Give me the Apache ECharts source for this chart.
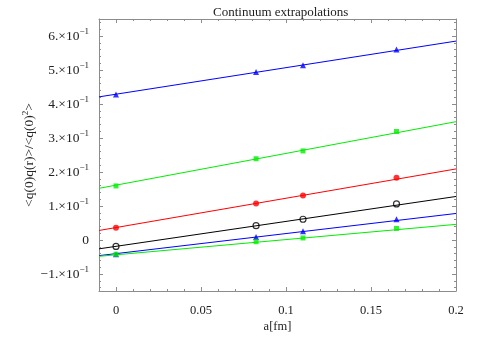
<!DOCTYPE html>
<html>
<head>
<meta charset="utf-8">
<script src="https://cdn.jsdelivr.net/npm/echarts@6/dist/echarts.min.js"></script>
<style>
  html, body { margin: 0; padding: 0; background: #fff; }
  #chart { width: 483px; height: 338px; }
</style>
</head>
<body>
<div id="chart"></div>
<script>
// lattice spacings a[fm] of the data points
var aValues = [0, 0.0824, 0.11, 0.165]
// fit lines are drawn between these two a values
var fitRange = [-0.01, 0.2]

var blueTop = [0.428, 0.494, 0.514, 0.560]
var blueTopFit = [0.421, 0.585]
var greenTop = [0.159, 0.239, 0.262, 0.319]
var greenTopFit = [0.152, 0.348]
var redPts = [0.036, 0.107, 0.131, 0.183]
var redFit = [0.028, 0.209]
var blackPts = [-0.019, 0.042, 0.061, 0.106]
var blackFit = [-0.026, 0.128]
var blueLow = [-0.042, 0.009, 0.026, 0.061]
var blueLowFit = [-0.046, 0.078]
var greenLow = [-0.042, -0.005, 0.006, 0.034]
var greenLowFit = [-0.048, 0.046]

var xMajor = [0, 0.05, 0.1, 0.15, 0.2]
var xMinor = [-0.01, 0.01, 0.02, 0.03, 0.04, 0.06, 0.07, 0.08, 0.09, 0.11, 0.12, 0.13, 0.14, 0.16, 0.17, 0.18, 0.19]
var yMajor = [-0.1, 0, 0.1, 0.2, 0.3, 0.4, 0.5, 0.6]
var yMinor = [-0.14, -0.12, -0.08, -0.06, -0.04, -0.02, 0.02, 0.04, 0.06, 0.08, 0.12, 0.14, 0.16, 0.18,
  0.22, 0.24, 0.26, 0.28, 0.32, 0.34, 0.36, 0.38, 0.42, 0.44, 0.46, 0.48, 0.52, 0.54, 0.56, 0.58, 0.62, 0.64]

var font = 'Liberation Serif'
var frameColor = '#8c8c8c'

function pts(ys) {
  return ys.map(function(y, i) { return [aValues[i], y] })
}
function fit(ys) {
  return [[fitRange[0], ys[0]], [fitRange[1], ys[1]]]
}

function xAxisDef(pos, values, len, labels) {
  return {
    type: 'value', position: pos, min: -0.01, max: 0.2, offset: 0,
    axisLine: { show: labels, onZero: false, lineStyle: { color: frameColor, width: 1 } },
    axisTick: { show: true, inside: true, length: len, customValues: values, lineStyle: { color: frameColor } },
    axisLabel: {
      show: labels, customValues: xMajor, margin: 13,
      fontFamily: font, fontSize: 12.5, color: '#222',
      formatter: function(v) { return v === 0 ? '0' : String(+v.toFixed(2)) }
    },
    splitLine: { show: false }
  }
}

function yLabel(v) {
  var n = Math.round(v * 10)
  if (n === 0) return '0'
  var s = n < 0 ? '\u2212' + (-n) : String(n)
  return '{m|' + s + '.\u00d710}{s|\u22121}'
}

function yAxisDef(pos, values, len, labels) {
  return {
    type: 'value', position: pos, min: -0.15, max: 0.65, offset: 0,
    axisLine: { show: labels, onZero: false, lineStyle: { color: frameColor, width: 1 } },
    axisTick: { show: true, inside: true, length: len, customValues: values, lineStyle: { color: frameColor } },
    axisLabel: {
      show: labels, customValues: yMajor, margin: 10,
      fontFamily: font, fontSize: 13.5, color: '#222',
      formatter: yLabel,
      rich: {
        m: { fontFamily: font, fontSize: 13.5, color: '#222' },
        s: { fontFamily: font, fontSize: 9, color: '#222', padding: [0, 0, 8, 0] }
      }
    },
    splitLine: { show: false }
  }
}

var xAxes = [
  xAxisDef('bottom', xMajor, 4, true),
  xAxisDef('bottom', xMinor, 2, false),
  xAxisDef('top', xMajor, 4, true),
  xAxisDef('top', xMinor, 2, false)
]
xAxes[0].name = 'a[fm]'
xAxes[0].nameLocation = 'middle'
xAxes[0].nameGap = 29
xAxes[0].nameMoveOverlap = false
xAxes[0].nameTextStyle = { fontFamily: font, fontSize: 12.5, color: '#222' }
xAxes[2].axisLabel.show = false

var yAxes = [
  yAxisDef('left', yMajor, 4, true),
  yAxisDef('left', yMinor, 2, false),
  yAxisDef('right', yMajor, 4, true),
  yAxisDef('right', yMinor, 2, false)
]
yAxes[0].name = '{m|<q(0)q(r)>/<q(0)}{s|2}{m|>}'
yAxes[0].nameLocation = 'middle'
yAxes[0].nameGap = 62
yAxes[0].nameMoveOverlap = false
yAxes[0].nameTextStyle = {
  rich: {
    m: { fontFamily: font, fontSize: 13.5, color: '#222' },
    s: { fontFamily: font, fontSize: 9, color: '#222', padding: [0, 0, 7, 0] }
  }
}
yAxes[2].axisLabel.show = false

function lineSeries(data, color) {
  return {
    type: 'line', data: fit(data), symbol: 'none', silent: true,
    lineStyle: { color: color, width: 1 }, z: 2
  }
}
function pointSeries(data, color, symbol, size, hollow) {
  return {
    type: 'scatter', data: pts(data), symbol: symbol, symbolSize: size, z: 3,
    itemStyle: hollow
      ? { color: 'rgba(255,255,255,0)', borderColor: color, borderWidth: 1.2 }
      : { color: color }
  }
}

var chart = echarts.init(document.getElementById('chart'), null, { renderer: 'canvas' })
chart.setOption({
  animation: false,
  backgroundColor: '#fff',
  title: {
    text: 'Continuum extrapolations', left: 208, top: 1,
    textStyle: { fontFamily: font, fontSize: 13, fontWeight: 'normal', color: '#222' }
  },
  grid: { left: 99, right: 27, top: 19, bottom: 35 },
  xAxis: xAxes,
  yAxis: yAxes,
  series: [
    lineSeries(blueTopFit, '#0000ff'),
    pointSeries(blueTop, '#0000ff', 'triangle', 6),
    lineSeries(greenTopFit, '#00ee00'),
    pointSeries(greenTop, '#00ee00', 'rect', 5),
    lineSeries(redFit, '#ff0000'),
    pointSeries(redPts, '#ff0000', 'circle', 6),
    lineSeries(blackFit, '#000000'),
    pointSeries(blackPts, '#000000', 'circle', 6, true),
    lineSeries(blueLowFit, '#0000ff'),
    pointSeries(blueLow, '#0000ff', 'triangle', 6),
    lineSeries(greenLowFit, '#00ee00'),
    pointSeries(greenLow, '#00ee00', 'rect', 5)
  ]
})
</script>
</body>
</html>
